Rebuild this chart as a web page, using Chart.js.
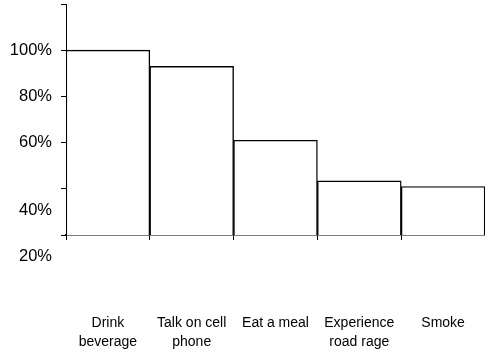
<!DOCTYPE html>
<html>
<head>
<meta charset="utf-8">
<script src="https://cdn.jsdelivr.net/npm/chart.js@4/dist/chart.umd.min.js"></script>
<style>
  html, body { margin: 0; padding: 0; background: #fff; }
  #wrap { width: 485px; height: 354px; }
</style>
</head>
<body>
<div id="wrap"><canvas id="c" width="485" height="354"></canvas></div>
<script>
const categories = [["Drink", "beverage"], ["Talk on cell", "phone"], ["Eat a meal"], ["Experience", "road rage"], ["Smoke"]];
const values = [100, 93, 61, 43.4, 41];
const tickValues = [20, 40, 60, 80, 100, 120];
const tickLabels = [["", "", "20%"], ["", "", "40%"], "60%", "80%", "100%", ""];

const ctx = document.getElementById('c').getContext('2d');
new Chart(ctx, {
  type: 'bar',
  data: {
    labels: categories,
    datasets: [{
      data: values,
      backgroundColor: '#ffffff',
      borderColor: '#000000',
      borderWidth: 1.4,
      categoryPercentage: 1,
      barPercentage: 1
    }]
  },
  options: {
    responsive: false,
    animation: false,
    layout: { padding: { top: 4, right: 0, bottom: 0, left: 0 } },
    plugins: { legend: { display: false }, tooltip: { enabled: false } },
    scales: {
      x: {
        grid: { drawOnChartArea: false, drawTicks: true, tickLength: 5, color: '#000', offset: true },
        border: { display: true, color: '#000', width: 1.5 },
        ticks: {
          color: '#000',
          padding: 73,
          maxRotation: 0,
          autoSkip: false,
          font: { family: 'Liberation Sans, Arial, sans-serif', size: 14, lineHeight: 1.4 }
        },
        afterFit: (s) => { s.height = 119; s.paddingLeft = 0; s.paddingRight = 0; }
      },
      y: {
        min: 20,
        max: 120,
        grid: { drawOnChartArea: false, drawTicks: true, tickLength: 5, color: '#000' },
        border: { display: true, color: '#000', width: 1 },
        afterBuildTicks: (s) => { s.ticks = tickValues.map(v => ({ value: v })); },
        ticks: {
          color: '#000',
          padding: 9,
          autoSkip: false,
          font: { family: 'Liberation Sans, Arial, sans-serif', size: 16.5, lineHeight: 1.3 },
          callback: function(value) {
            const i = tickValues.indexOf(value);
            return i >= 0 ? tickLabels[i] : '';
          }
        },
        afterFit: (s) => { s.width = 66; s.paddingTop = 0; s.paddingBottom = 0; }
      }
    }
  }
});
</script>
</body>
</html>
